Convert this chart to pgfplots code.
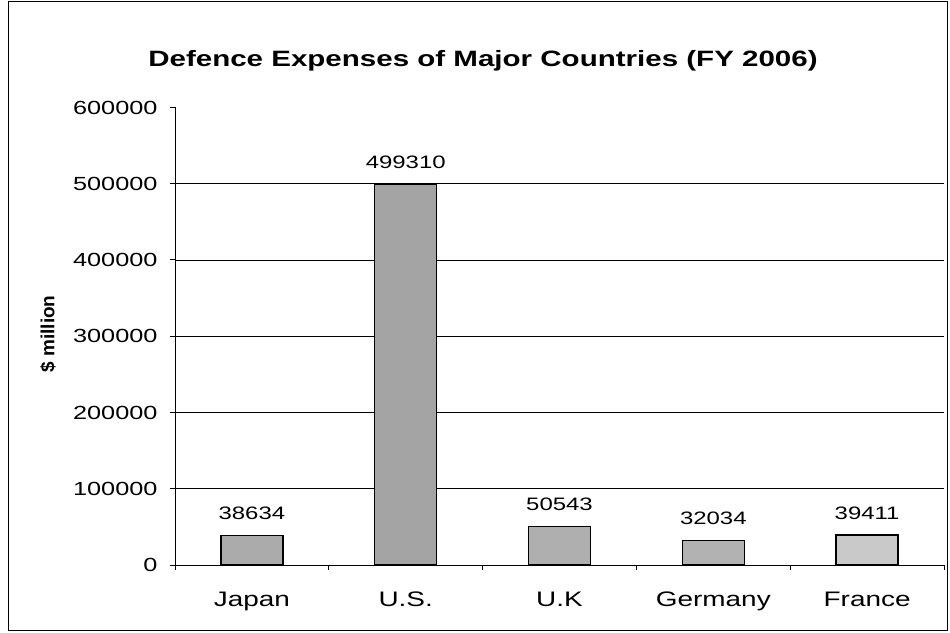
\documentclass[border=0pt]{standalone}
\usepackage{fontspec}
\setmainfont{Liberation Sans}[FakeStretch=1.33]
\newfontfamily\plainsans{Liberation Sans}
\usepackage{pgfplots}
\pgfplotsset{compat=1.18}
\definecolor{barA}{HTML}{ABABAB}
\definecolor{barB}{HTML}{A4A4A4}
\definecolor{barC}{HTML}{AFAFAF}
\definecolor{barD}{HTML}{B2B2B2}
\definecolor{barE}{HTML}{C9C9C9}
\begin{document}
\begin{tikzpicture}[x=1pt,y=1pt]
\useasboundingbox (0,0) rectangle (950,632);
\draw[line width=1pt] (8.5,2) rectangle (947.5,630);
\node[anchor=base, font=\bfseries\fontsize{22.2pt}{26pt}\selectfont] at (483,565) {Defence Expenses of Major Countries (FY 2006)};
\node[rotate=90, anchor=center, font=\plainsans\bfseries\fontsize{19pt}{22pt}\selectfont] at (48,298) {\$ million};
\begin{axis}[
  at={(175pt,67pt)}, anchor=south west,
  scale only axis, width=769pt, height=457.5pt,
  xmin=-0.5, xmax=4.5, ymin=0, ymax=600000,
  ybar, bar width=62pt,
  axis x line*=bottom, axis y line*=left,
  axis line style={-, line width=1pt},
  tick align=outside,
  tick style={black, line width=1pt},
  major tick length=5pt,
  xtick={-0.5,0.5,...,4.5}, xticklabels={},
  extra x ticks={0,1,2,3,4},
  extra x tick labels={Japan,U.S.,U.K,Germany,France},
  extra x tick style={major tick length=0pt, grid=none,
    tick label style={font=\fontsize{21pt}{24pt}\selectfont, anchor=base, yshift=-41pt}},
  ytick={0,100000,...,500000},
  extra y ticks={600000}, extra y tick style={grid=none},
  ymajorgrids, grid style={black, line width=0.8pt},
  scaled y ticks=false,
  /pgf/number format/fixed, /pgf/number format/1000 sep={},
  /pgf/number format/assume math mode=true,
  yticklabel style={font=\fontsize{19pt}{22pt}\selectfont, xshift=-9pt},
  nodes near coords,
  every node near coord/.append style={font=\fontsize{18pt}{21pt}\selectfont, anchor=south, inner sep=0pt, yshift=15pt, black},
  clip=false,
]
\addplot[fill=barA, draw=black, line width=1.3pt, bar shift=0pt] coordinates {(0,38634)};
\addplot[fill=barB, draw=black, line width=1.3pt, bar shift=0pt] coordinates {(1,499310)};
\addplot[fill=barC, draw=black, line width=1.3pt, bar shift=0pt] coordinates {(2,50543)};
\addplot[fill=barD, draw=black, line width=1.3pt, bar shift=0pt] coordinates {(3,32034)};
\addplot[fill=barE, draw=black, line width=1.3pt, bar shift=0pt] coordinates {(4,39411)};
\end{axis}
\end{tikzpicture}
\end{document}
